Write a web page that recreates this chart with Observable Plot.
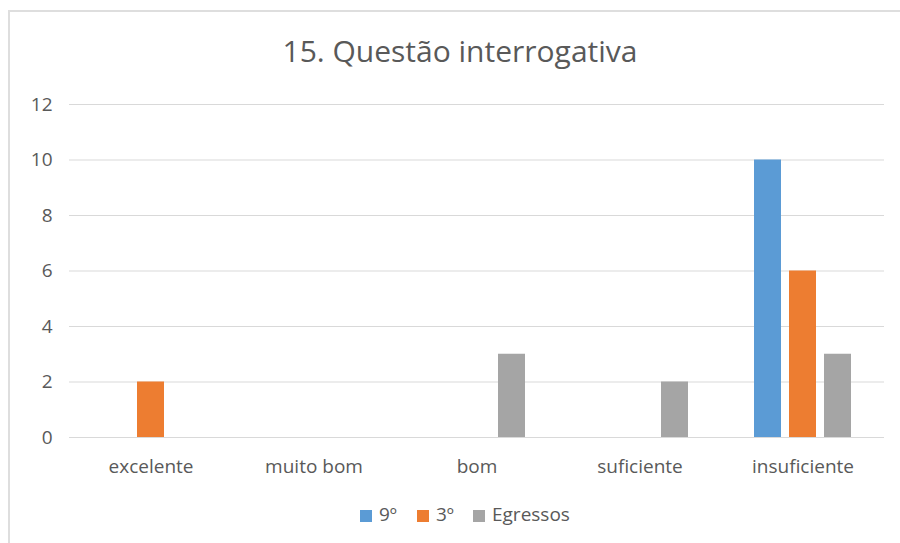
<!DOCTYPE html>
<html>
<head>
<meta charset="utf-8">
<script src="https://cdn.jsdelivr.net/npm/d3@7"></script>
<script src="https://cdn.jsdelivr.net/npm/@observablehq/plot@0.6"></script>
<style>
  html, body { margin: 0; padding: 0; background: #fff; }
  #chart { position: relative; width: 900px; height: 543px; overflow: hidden; font-family: "Open Sans", sans-serif; color: #595959; }
  #frame { position: absolute; left: 8px; top: 10px; width: 950px; height: 600px; border: 2px solid #dedede; box-sizing: border-box; }
  #plot { position: absolute; left: 0; top: 0; }
  #title { position: absolute; left: 0; top: 36px; width: 920px; text-align: center; font-size: 30px; line-height: 30px; white-space: nowrap; }
  #legend { position: absolute; left: 0; top: 0; width: 900px; height: 543px; font-size: 19px; line-height: 19px; white-space: nowrap; }
  #legend .swatch { position: absolute; top: 510px; width: 12px; height: 12px; }
  #legend .label { position: absolute; top: 505px; }
</style>
</head>
<body>
<div id="chart">
  <div id="frame"></div>
  <div id="plot"></div>
  <div id="title">15. Questão interrogativa</div>
  <div id="legend"></div>
</div>
<script>
// Response categories and series
const categories = ["excelente", "muito bom", "bom", "suficiente", "insuficiente"];
const series = ["9º", "3º", "Egressos"];
const values9 = [0, 0, 0, 0, 10];
const values3 = [2, 0, 0, 0, 6];
const valuesEgressos = [0, 0, 3, 2, 3];
const seriesColors = ["#5B9BD5", "#ED7D31", "#A5A5A5"];
const yTicks = [0, 2, 4, 6, 8, 10, 12];

const seriesValues = [values9, values3, valuesEgressos];
const data = categories.flatMap((categoria, i) =>
  series.map((serie, j) => ({categoria, serie, valor: seriesValues[j][i]}))
);

const chart = Plot.plot({
  width: 900,
  height: 543,
  marginTop: 104,
  marginBottom: 106,
  marginLeft: 67,
  marginRight: 14,
  style: {fontFamily: "Open Sans", fontSize: "19px", color: "#595959", background: "transparent"},
  fx: {domain: categories, padding: 0, label: null, tickSize: 0, tickPadding: 22},
  x: {domain: series, axis: null, paddingInner: 0.222, paddingOuter: 0.883},
  y: {domain: [0, 12], ticks: yTicks, tickSize: 0, tickPadding: 17, label: null},
  color: {domain: series, range: seriesColors},
  marks: [
    Plot.ruleY(yTicks, {stroke: "#d9d9d9", strokeWidth: 1}),
    Plot.barY(data, {fx: "categoria", x: "serie", y: "valor", fill: "serie"})
  ]
});
document.getElementById("plot").appendChild(chart);

// Legend below the chart: swatch and label for each series
const legend = document.getElementById("legend");
const legendSwatchX = [360, 417, 473];
series.forEach((s, i) => {
  const sw = document.createElement("span");
  sw.className = "swatch";
  sw.style.left = legendSwatchX[i] + "px";
  sw.style.background = seriesColors[i];
  legend.appendChild(sw);
  const lb = document.createElement("span");
  lb.className = "label";
  lb.style.left = (legendSwatchX[i] + 19) + "px";
  lb.textContent = s;
  legend.appendChild(lb);
});
</script>
</body>
</html>
